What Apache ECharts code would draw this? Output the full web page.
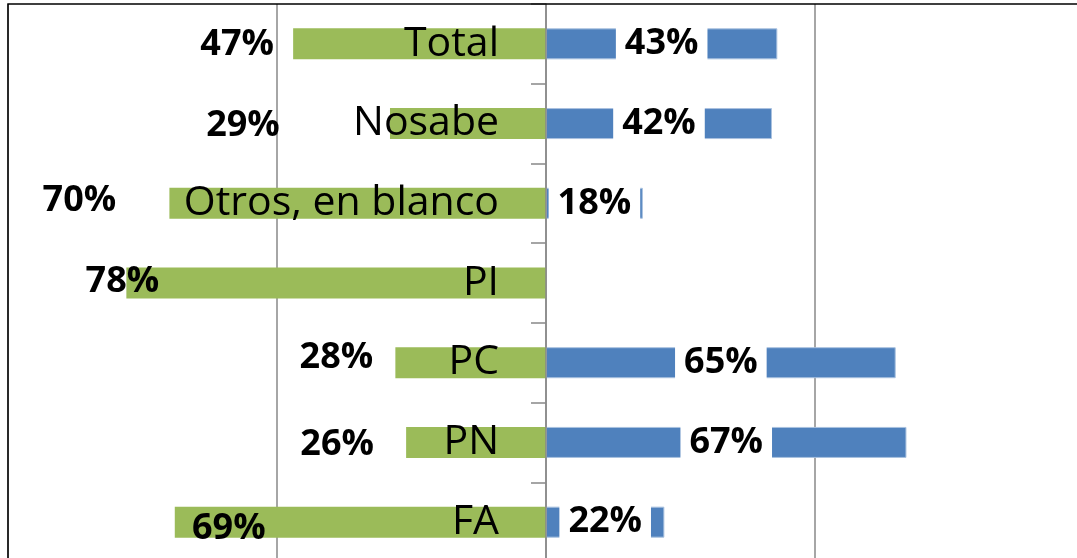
<!DOCTYPE html>
<html>
<head>
<meta charset="utf-8">
<script src="https://cdn.jsdelivr.net/npm/echarts@6.0.0/dist/echarts.min.js"></script>
<style>
    html, body { margin: 0; padding: 0; background: #fff; }
    #chart { width: 1077px; height: 558px; }
</style>
</head>
<body>
<div id="chart"></div>
<script>
// data
const categories = ["Total", "Nosabe", "Otros, en blanco", "PI", "PC", "PN", "FA"];
const greenValues = [47, 29, 70, 78, 28, 26, 69];
const blueValues = [43, 42, 18, null, 65, 67, 22];

// manual label placement (labels were dragged around in the original)
const greenLabelOffsets = [[-56, 1], [-147, 2], [-90, -3], [-4, -1], [-59, -5], [-69, 2], [54, 7]];

const labelFont = "'Open Sans', 'Noto Sans', sans-serif";

let chart = echarts.init(document.getElementById("chart"), null, { renderer: "canvas" });

let options = {
    animation: false,
    backgroundColor: "#fff",
    grid: {
        left: 8,
        top: 4,
        width: 1076,
        height: 558,
        containLabel: false,
        outerBoundsMode: "none",
    },
    graphic: [
        {
            type: "rect",
            shape: { x: 8, y: 4, width: 1200, height: 700 },
            style: { fill: null, stroke: "#000", lineWidth: 1.5 },
            z: 100,
            silent: true,
        },
    ],
    xAxis: {
        type: "value",
        min: -100,
        max: 100,
        interval: 50,
        axisLine: { show: false },
        axisTick: { show: false },
        axisLabel: { show: false },
        splitLine: { lineStyle: { color: "#888", width: 1.5 } },
    },
    yAxis: {
        type: "category",
        data: categories,
        inverse: true,
        position: "left",
        // put the category axis on the zero line (x = 546)
        offset: -538,
        z: 10,
        axisLine: { onZero: false, lineStyle: { color: "#888", width: 1.5 } },
        axisTick: { show: true, length: 15, lineStyle: { color: "#888", width: 1.5 } },
        axisLabel: {
            show: true,
            interval: 0,
            margin: 47,
            fontSize: 41,
            color: "#000",
            fontFamily: labelFont,
        },
    },
    series: [
        {
            name: "green",
            type: "bar",
            stack: "total",
            barWidth: 31,
            itemStyle: { color: "#9BBB59" },
            data: greenValues.map((value, index) => {
                return {
                    value: -value,
                    label: { offset: greenLabelOffsets[index] },
                };
            }),
            label: {
                show: true,
                position: "left",
                distance: 0,
                align: "center",
                verticalAlign: "middle",
                fontSize: 36,
                fontWeight: "bold",
                color: "#000",
                fontFamily: labelFont,
                formatter: (params) => `${Math.abs(params.value)}%`,
            },
        },
        {
            name: "blue",
            type: "bar",
            stack: "total",
            barWidth: 31,
            itemStyle: { color: "#4F81BD", borderColor: "#A9C1DF", borderWidth: 1 },
            data: blueValues,
            label: {
                show: true,
                position: "inside",
                fontSize: 36,
                fontWeight: "bold",
                color: "#000",
                fontFamily: labelFont,
                backgroundColor: "#fff",
                lineHeight: 38,
                padding: [0, 9],
                formatter: (params) => `${params.value}%`,
            },
        },
    ],
};

chart.setOption(options);
</script>
</body>
</html>
